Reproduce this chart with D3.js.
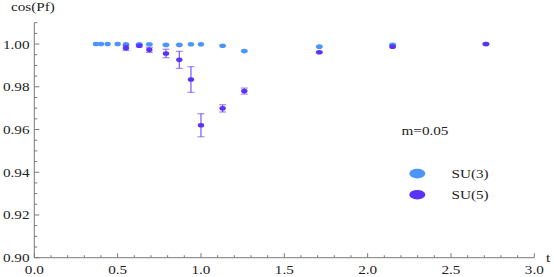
<!DOCTYPE html>
<html><head><meta charset="utf-8">
<script src="https://cdn.jsdelivr.net/npm/d3@7"></script>
<style>body{margin:0;background:#fff}svg{display:block}text{font-family:"Liberation Serif","Times New Roman",serif;fill:#222}</style>
</head><body><svg id="c" width="554" height="277"></svg>
<script>
const tSU3 = [0.37, 0.40, 0.44, 0.50, 0.55, 0.63, 0.69, 0.79, 0.87, 0.94, 1.00, 1.13, 1.26, 1.71, 2.15, 2.71];
const ySU3 = [1.0000, 1.0000, 1.0000, 1.0000, 0.9999, 0.9999, 0.9999, 0.9996, 0.9996, 0.9999, 0.9999, 0.9992, 0.9967, 0.9988, 0.9997, 1.0000];
const eSU3 = [0, 0, 0, 0, 0.0001, 0.0002, 0.0002, 0.0002, 0.0002, 0.0001, 0.0001, 0.0002, 0.0003, 0.0002, 0.0002, 0.0001];
const tSU5 = [0.55, 0.63, 0.69, 0.79, 0.87, 0.94, 1.00, 1.13, 1.26, 1.71, 2.15, 2.71];
const ySU5 = [0.9982, 0.9992, 0.9973, 0.9956, 0.9926, 0.9834, 0.9620, 0.9699, 0.9780, 0.9962, 0.9988, 1.0000];
const eSU5 = [0.0012, 0.0005, 0.0012, 0.0020, 0.0040, 0.0060, 0.0054, 0.0017, 0.0014, 0.0003, 0.0004, 0.0002];
const xTicks = [0, 0.5, 1.0, 1.5, 2.0, 2.5, 3.0];
const yTicks = [0.90, 0.92, 0.94, 0.96, 0.98, 1.00];
const seriesNames = ["SU(3)", "SU(5)"];
const colors = ["#4d94fb", "#5a32f8"];

const svg = d3.select("#c");
const x = d3.scaleLinear().domain([0, 3]).range([34.3, 534.3]);
const y = d3.scaleLinear().domain([0.90, 1.01]).range([257.7, 22.7]);
const SX = 1.17;
function txt(px, py, s, size, anchor) {
  const g = svg.append("g").attr("transform", `translate(${px},${py}) scale(${SX},1)`);
  g.append("text").attr("text-anchor", anchor || "start").attr("font-size", size).text(s);
  return g;
}
const axCol = "#7a7a7a";
// x axis
const xAxis = svg.append("g").attr("transform", `translate(0,${y(0.90)})`);
xAxis.append("line").attr("x1", x(0)).attr("x2", x(3)).attr("stroke", axCol);
xAxis.selectAll("line.mi").data(d3.range(0, 31).map(i => i / 10)).join("line")
  .attr("x1", d => x(d)).attr("x2", d => x(d)).attr("y1", 0)
  .attr("y2", d => (Math.abs(d * 2 - Math.round(d * 2)) < 1e-6) ? -4.5 : -2.5).attr("stroke", axCol);
xTicks.forEach(v => txt(x(v), 273.5, v.toFixed(1), 13, "middle"));
// y axis
const yAxis = svg.append("g").attr("transform", `translate(${x(0)},0)`);
yAxis.append("line").attr("y1", y(0.90)).attr("y2", y(1.01)).attr("stroke", axCol);
yAxis.selectAll("line.mi").data(d3.range(0, 23).map(i => 0.90 + i * 0.005)).join("line")
  .attr("y1", d => y(d)).attr("y2", d => y(d)).attr("x1", 0)
  .attr("x2", (d, i) => (i % 4 === 0) ? 5 : 3).attr("stroke", axCol);
yTicks.forEach(v => txt(29.5, y(v) + 4.5, v.toFixed(2), 13, "end"));
txt(11, 11, "cos(Pf)", 13, "start");
txt(546, 262, "t", 13, "start");

function drawSeries(ts, ys, es, col) {
  const g = svg.append("g");
  ts.forEach((t, i) => {
    if (es[i] > 0.0001) {
      const x0 = x(t), y1 = y(ys[i] - es[i]), y2 = y(ys[i] + es[i]);
      g.append("line").attr("x1", x0).attr("x2", x0).attr("y1", y1).attr("y2", y2)
        .attr("stroke", col).attr("stroke-width", 1.2).attr("opacity", 0.8);
      [y1, y2].forEach(yy => g.append("line").attr("x1", x0 - 3.5).attr("x2", x0 + 3.5)
        .attr("y1", yy).attr("y2", yy).attr("stroke", col).attr("stroke-width", 1.2).attr("opacity", 0.55));
    }
  });
  g.selectAll("ellipse").data(ts).join("ellipse")
    .attr("cx", d => x(d)).attr("cy", (d, i) => y(ys[i])).attr("rx", 3.2).attr("ry", 2.3).attr("fill", col);
}
drawSeries(tSU3, ySU3, eSU3, colors[0]);
drawSeries(tSU5, ySU5, eSU5, colors[1]);

// legend
txt(401.5, 135, "m=0.05", 13, "start");
seriesNames.forEach((n, i) => {
  const cy = 173.6 + i * 21.1;
  svg.append("ellipse").attr("cx", 417.3).attr("cy", cy).attr("rx", 8).attr("ry", 4.8).attr("fill", colors[i]);
  txt(451.5, cy + 4, n, 13, "start");
});
</script></body></html>
